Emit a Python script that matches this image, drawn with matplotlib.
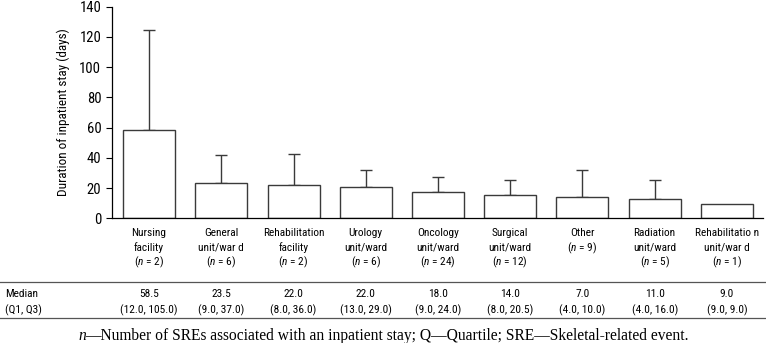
import matplotlib
matplotlib.use("Agg")
import matplotlib.pyplot as plt
from matplotlib.lines import Line2D
from matplotlib import font_manager

categories = ["Nursing\nfacility", "General\nunit/war d", "Rehabilitation\nfacility",
              "Urology\nunit/ward", "Oncology\nunit/ward", "Surgical\nunit/ward",
              "Other", "Radiation\nunit/ward", "Rehabilitatio n\nunit/war d"]
n_counts = [2, 6, 2, 6, 24, 12, 9, 5, 1]
means = [58.2, 23.6, 22.0, 20.5, 17.2, 15.4, 14.1, 13.0, 9.3]
sd_upper = [66.2, 18.1, 20.7, 11.7, 10.3, 10.2, 17.7, 12.1, 0.0]
medians = ["58.5", "23.5", "22.0", "22.0", "18.0", "14.0", "7.0", "11.0", "9.0"]
quartiles = ["(12.0, 105.0)", "(9.0, 37.0)", "(8.0, 36.0)", "(13.0, 29.0)", "(9.0, 24.0)",
             "(8.0, 20.5)", "(4.0, 10.0)", "(4.0, 16.0)", "(9.0, 9.0)"]

# narrow sans if there is one, the reference looks like Arial Narrow
names = {f.name for f in font_manager.fontManager.ttflist}
sans = "Liberation Sans"
for cand in ["Liberation Sans Narrow", "Arial Narrow", "Roboto Condensed", "PT Sans Narrow",
             "Archivo Narrow", "Asap Condensed"]:
    if cand in names:
        sans = cand
        break
plt.rcParams["font.family"] = [sans, "DejaVu Sans"]
plt.rcParams["mathtext.fontset"] = "custom"
plt.rcParams["mathtext.it"] = sans + ":italic"
plt.rcParams["mathtext.rm"] = sans

W, H = 766, 343
fig = plt.figure(figsize=(W / 100, H / 100), dpi=100)
ax = fig.add_axes([111.7 / W, 1 - 218.3 / H, (763 - 111.7) / W, (218.3 - 6.7) / H])

x = list(range(len(categories)))
ax.bar(x, means, width=0.72, color="white", edgecolor="#3a3a3a", linewidth=1.0, zorder=2)
for xi, m, s in zip(x, means, sd_upper):
    if s > 0:
        ax.errorbar(xi, m, yerr=[[0], [s]], fmt="none", ecolor="#3a3a3a",
                    elinewidth=1.0, capsize=4, capthick=1.0, zorder=1)

ax.set_xlim(-0.517, 8.5)
ax.set_ylim(0, 140)
ax.set_yticks(range(0, 141, 20))
ax.tick_params(axis="y", direction="out", length=4.5, width=0.8, labelsize=10.5, pad=3)
ax.set_xticks([])
for sp in ["top", "right"]:
    ax.spines[sp].set_visible(False)
ax.spines["left"].set_linewidth(0.9)
ax.spines["bottom"].set_linewidth(0.9)
ax.set_ylabel("Duration of inpatient stay (days)", fontsize=9.5, va="center")
ax.yaxis.set_label_coords(-(111.7 - 63) / (763 - 111.7), 0.5)

bt = matplotlib.transforms.blended_transform_factory(ax.transData, fig.transFigure)
line_y = [232.5, 246.5, 260.3]
fs = 8.2
for xi, cat, n, med, q in zip(x, categories, n_counts, medians, quartiles):
    lines = cat.split("\n") + ["(" + r"$n$" + f" = {n})"]
    for k, txt in enumerate(lines):
        ax.text(xi, 1 - line_y[k] / H, txt, transform=bt, ha="center", va="center_baseline",
                fontsize=fs)
    ax.text(xi, 1 - 292.7 / H, med, transform=bt, ha="center", va="center_baseline", fontsize=fs)
    ax.text(xi, 1 - 309 / H, q, transform=bt, ha="center", va="center_baseline", fontsize=fs)

fig.text(5 / W, 1 - 292.7 / H, "Median", ha="left", va="center_baseline", fontsize=fs)
fig.text(5 / W, 1 - 309 / H, "(Q1, Q3)", ha="left", va="center_baseline", fontsize=fs)
for yy in [282.3, 318.3]:
    fig.add_artist(Line2D([0, 1], [1 - yy / H, 1 - yy / H], color="#555555", linewidth=0.9))

fig.text(78 / W, 1 - 339.5 / H, "n", family="Liberation Serif", style="italic",
         ha="left", va="baseline", fontsize=11.2)
fig.text(85.5 / W, 1 - 339.5 / H,
         "\u2014Number of SREs associated with an inpatient stay; Q\u2014Quartile; SRE\u2014Skeletal-related event.",
         family="Liberation Serif", ha="left", va="baseline", fontsize=11.2)

fig.savefig("out.png", dpi=100)
